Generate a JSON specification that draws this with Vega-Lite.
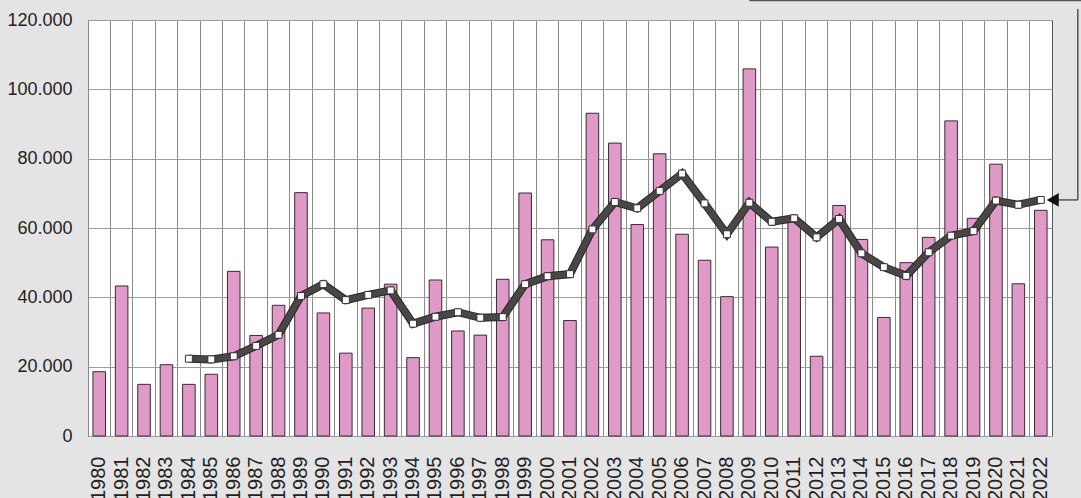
{
  "$schema": "https://vega.github.io/schema/vega-lite/v6.json",
  "width": 964,
  "height": 416,
  "autosize": {"type": "none"},
  "padding": {"left": 88, "top": 20, "right": 29, "bottom": 62},
  "background": "#e4e4e4",
  "config": {
    "locale": {"number": {"decimal": ",", "thousands": ".", "grouping": [3], "currency": ["", " €"]}},
    "view": {"fill": "white", "stroke": "#555555", "strokeWidth": 1},
    "font": "Liberation Sans",
    "axisY": {"labelFontSize": 18, "labelColor": "#222222", "labelPadding": 16, "ticks": false, "tickSize": 0, "domain": false, "gridColor": "#9c9c9c", "gridWidth": 1.2, "tickCount": 6, "labelFlush": false, "title": null, "format": ",.0f"}
  },
  "datasets": {
    "main": [
      {"year": "1980", "count": 18550, "avg": null},
      {"year": "1981", "count": 43270, "avg": null},
      {"year": "1982", "count": 14900, "avg": null},
      {"year": "1983", "count": 20570, "avg": null},
      {"year": "1984", "count": 14900, "avg": 22300},
      {"year": "1985", "count": 17800, "avg": 22100},
      {"year": "1986", "count": 47500, "avg": 23000},
      {"year": "1987", "count": 29000, "avg": 26000},
      {"year": "1988", "count": 37700, "avg": 29200},
      {"year": "1989", "count": 70200, "avg": 40400},
      {"year": "1990", "count": 35500, "avg": 43800},
      {"year": "1991", "count": 23900, "avg": 39200},
      {"year": "1992", "count": 36900, "avg": 40700},
      {"year": "1993", "count": 43800, "avg": 42000},
      {"year": "1994", "count": 22600, "avg": 32400},
      {"year": "1995", "count": 45000, "avg": 34400},
      {"year": "1996", "count": 30300, "avg": 35700},
      {"year": "1997", "count": 29100, "avg": 34100},
      {"year": "1998", "count": 45200, "avg": 34300},
      {"year": "1999", "count": 70100, "avg": 43800},
      {"year": "2000", "count": 56600, "avg": 46100},
      {"year": "2001", "count": 33300, "avg": 46700},
      {"year": "2002", "count": 93100, "avg": 59600},
      {"year": "2003", "count": 84500, "avg": 67500},
      {"year": "2004", "count": 61000, "avg": 65700},
      {"year": "2005", "count": 81400, "avg": 70700},
      {"year": "2006", "count": 58200, "avg": 75700},
      {"year": "2007", "count": 50700, "avg": 67100},
      {"year": "2008", "count": 40200, "avg": 58200},
      {"year": "2009", "count": 105900, "avg": 67300},
      {"year": "2010", "count": 54500, "avg": 61800},
      {"year": "2011", "count": 62300, "avg": 62800},
      {"year": "2012", "count": 23000, "avg": 57300},
      {"year": "2013", "count": 66500, "avg": 62600},
      {"year": "2014", "count": 56700, "avg": 52700},
      {"year": "2015", "count": 34200, "avg": 48700},
      {"year": "2016", "count": 50000, "avg": 46200},
      {"year": "2017", "count": 57300, "avg": 53000},
      {"year": "2018", "count": 90900, "avg": 57800},
      {"year": "2019", "count": 62800, "avg": 59100},
      {"year": "2020", "count": 78400, "avg": 67900},
      {"year": "2021", "count": 43900, "avg": 66700},
      {"year": "2022", "count": 65100, "avg": 68100}
    ],
    "arrow": [{"year": "2022", "value": 68100, "top": 123200}],
    "box": [{"year": "2009", "year2": "2022", "value": 125600}]
  },
  "encoding": {
    "x": {
      "field": "year",
      "type": "ordinal",
      "title": null,
      "scale": {"paddingInner": 0, "paddingOuter": 0},
      "axis": {"bandPosition": 0, "labelOffset": 0, "labelAngle": -90, "labelFontSize": 20, "labelColor": "#222222", "labelPadding": 20, "ticks": false, "tickSize": 0, "domain": false, "grid": true, "gridColor": "#8a8a8a", "gridWidth": 1, "labelOverlap": false, "title": null}
    }
  },
  "layer": [
    {
      "data": {"name": "main"},
      "mark": {"type": "bar", "width": {"band": 0.56}, "fill": "#e09ac8", "stroke": "#3a2a33", "strokeWidth": 1},
      "encoding": {
        "y": {"field": "count", "type": "quantitative", "title": null, "scale": {"domain": [0, 120000], "nice": false}}
      }
    },
    {
      "data": {"name": "main"},
      "mark": {"type": "line", "stroke": "#2a2828", "strokeWidth": 8, "strokeJoin": "miter"},
      "encoding": {"y": {"field": "avg", "type": "quantitative", "title": null}}
    },
    {
      "data": {"name": "main"},
      "mark": {"type": "line", "stroke": "#4a4646", "strokeWidth": 6, "strokeJoin": "miter"},
      "encoding": {"y": {"field": "avg", "type": "quantitative", "title": null}}
    },
    {
      "data": {"name": "main"},
      "mark": {"type": "point", "shape": "square", "filled": true, "fill": "white", "stroke": "#333333", "strokeWidth": 1, "size": 48, "opacity": 1},
      "encoding": {"y": {"field": "avg", "type": "quantitative", "title": null}}
    },
    {
      "data": {"name": "arrow"},
      "mark": {"type": "rule", "stroke": "#555555", "strokeWidth": 1.5, "xOffset": 12, "x2Offset": 37},
      "encoding": {
        "x2": {"field": "year"},
        "y": {"field": "value", "type": "quantitative", "title": null}
      }
    },
    {
      "data": {"name": "arrow"},
      "mark": {"type": "rule", "stroke": "#555555", "strokeWidth": 1.5, "xOffset": 37},
      "encoding": {
        "y": {"field": "value", "type": "quantitative", "title": null},
        "y2": {"field": "top"}
      }
    },
    {
      "data": {"name": "arrow"},
      "mark": {"type": "point", "shape": "triangle-left", "filled": true, "fill": "#111111", "stroke": null, "size": 190, "opacity": 1, "xOffset": 12},
      "encoding": {"y": {"field": "value", "type": "quantitative", "title": null}}
    },
    {
      "data": {"name": "box"},
      "mark": {"type": "rule", "stroke": "#555555", "strokeWidth": 1.5, "x2Offset": 45},
      "encoding": {
        "x2": {"field": "year2"},
        "y": {"field": "value", "type": "quantitative", "title": null}
      }
    }
  ]
}
